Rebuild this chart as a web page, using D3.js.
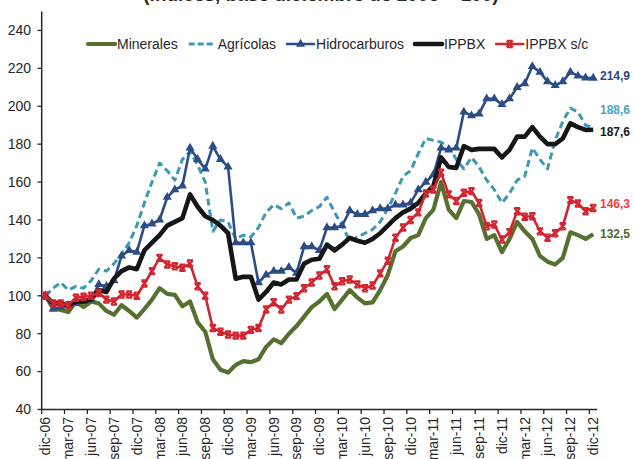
<!DOCTYPE html>
<html>
<head>
<meta charset="utf-8">
<style>
  body { margin: 0; background: #fff; }
  text { font-family: Arial, "Liberation Sans", sans-serif; fill: #262626; }
</style>
</head>
<body>
<script src="https://cdn.jsdelivr.net/npm/d3@7/dist/d3.min.js"></script>
<script>
  // dimensions
  var width = 633;
  var height = 459;

  // months dic-06 .. dic-12
  var mesNames = ["ene", "feb", "mar", "abr", "may", "jun", "jul", "ago", "sep", "oct", "nov", "dic"];
  var years = ["07", "08", "09", "10", "11", "12"];
  var months = ["dic-06"];
  years.forEach(function (yy) {
    mesNames.forEach(function (m) { months.push(m + "-" + yy); });
  });

  var yTicks = [40, 60, 80, 100, 120, 140, 160, 180, 200, 220, 240];

  // series (index base dic-2006 = 100)
  var minerales = [100, 93.5, 92.5, 91.5, 97, 94, 97, 96, 92, 90, 95, 92, 88.5,
    93, 98, 104, 101, 100.5, 94.5, 97, 86, 81, 66.5, 61, 59.5,
    63.5, 65.5, 65, 66.5, 73, 77, 75, 80, 84, 89, 94, 97,
    101, 93, 98, 103, 99, 96, 96.5, 103, 111, 123.5, 126, 130.5,
    132, 141, 145.5, 160, 145.5, 141, 150, 149.5, 143, 130, 132, 123,
    130, 139, 134, 130, 121, 118, 116.5, 120, 133.5, 132, 130, 132.5];

  var agricolas = [100, 104, 107, 103, 105, 104, 108, 114, 113, 117, 122, 128, 137,
    149, 160, 170, 166, 161, 172, 176, 169, 160, 134, 140, 139,
    130, 132, 131, 136, 144, 148, 146, 149, 141, 142, 145, 147,
    152, 144, 137, 129, 131, 133, 135, 139, 146, 154, 163, 166,
    175, 183, 182, 181, 179, 172, 167, 173, 168, 161, 156, 149,
    154, 161, 163, 178, 172, 167, 182, 192, 199, 197, 190, 188.6];

  var hidrocarburos = [100, 93, 94, 95, 96, 97, 98, 106, 105, 108, 121, 124, 123,
    137, 138, 140, 152, 156, 158, 178, 172, 167, 179, 172, 168,
    128, 128, 128, 107, 111, 113, 113, 115, 112, 126, 126, 124,
    136, 136, 137, 145, 143, 143, 145, 146, 146, 148, 148, 149,
    156, 160, 164, 178, 177, 178, 197, 195, 196, 204, 204, 201,
    204, 210, 212, 221, 218, 213, 211, 213, 218, 216, 215, 214.9];

  var ippbx = [100, 96, 96, 95, 97, 97, 98, 103, 102, 109, 113, 115, 114,
    124, 128, 132, 137, 139, 141, 153.5, 147, 142, 140, 137, 133,
    109, 110, 110, 98, 102, 107, 106, 108.6, 108.6, 117, 119, 119.5,
    127, 124, 127, 130.6, 129, 128, 130, 133, 137, 141, 144, 146,
    149, 154, 158, 173, 168, 167.5, 179, 177, 177.5, 177.5, 177.5, 173,
    177, 184, 184, 189, 184, 180, 180, 183, 191, 189, 187.5, 187.6];

  var ippbxSc = [100, 96, 96, 95, 99, 99.5, 100, 101.6, 98, 97, 100.7, 100.7, 100,
    106.5, 113, 120, 116.5, 115.6, 114.8, 117, 105, 100, 83, 81, 79.6,
    79, 79, 82, 83, 92.8, 96.6, 92.8, 98, 99.8, 104, 107, 110.7,
    114, 105, 107.7, 108.6, 106, 104, 105.4, 111.8, 118.5, 130.6, 136, 140,
    144, 154, 156, 165, 153.5, 150, 154.4, 155.2, 149, 136.7, 137.6, 129.7,
    133.6, 144.6, 141.7, 142, 134, 130.6, 133, 136.7, 150.5, 148.7, 144.6, 146.3];

  var seriesNames = ["Minerales", "Agrícolas", "Hidrocarburos", "IPPBX", "IPPBX s/c"];

  var series = [
    {name: seriesNames[0], values: minerales, color: "#56702f", label: "#4f6a2c", width: 4.2, dash: null, marker: null, dy: 0},
    {name: seriesNames[1], values: agricolas, color: "#3b99b3", label: "#4aa3bf", width: 3, dash: "7,4", marker: null, dy: -18},
    {name: seriesNames[2], values: hidrocarburos, color: "#2c4c86", label: "#2e4a7d", width: 2.6, dash: null, marker: "tri", dy: -2},
    {name: seriesNames[3], values: ippbx, color: "#161616", label: "#1a1a1a", width: 4.6, dash: null, marker: null, dy: 2},
    {name: seriesNames[4], values: ippbxSc, color: "#d1252f", label: "#ee3b3b", width: 2.6, dash: null, marker: "star", dy: -4}
  ];

  // scales
  var x = d3.scaleBand().domain(months).range([41.7, 597]).padding(0);
  var y = d3.scaleLinear().domain([40, 250]).range([409.5, 11.5]);
  var cx = function (i) { return x(months[i]) + x.bandwidth() / 2; };

  var svg = d3.select("body")
    .append("svg")
    .attr("width", width)
    .attr("height", height);

  // title (cut off at the top)
  svg.append("text")
    .attr("x", 321)
    .attr("y", 1)
    .attr("text-anchor", "middle")
    .style("font-weight", "bold")
    .style("font-size", "19px")
    .text("(Índices, base diciembre de 2006 = 100)");

  // y axis
  var yAxis = svg.append("g");
  yAxis.append("line")
    .attr("x1", 41.7).attr("x2", 41.7)
    .attr("y1", y(250)).attr("y2", y(40))
    .attr("stroke", "#262626").attr("stroke-width", 1.5);
  yAxis.selectAll(".ytick")
    .data(yTicks)
    .enter()
    .append("line")
    .attr("x1", 37.5).attr("x2", 41.7)
    .attr("y1", function (d) { return y(d); })
    .attr("y2", function (d) { return y(d); })
    .attr("stroke", "#262626").attr("stroke-width", 1.3);
  yAxis.selectAll(".ylab")
    .data(yTicks)
    .enter()
    .append("text")
    .attr("x", 31)
    .attr("y", function (d) { return y(d); })
    .attr("dy", "0.35em")
    .attr("text-anchor", "end")
    .style("font-size", "14px")
    .text(function (d) { return d; });

  // x axis
  var tickMonths = months.filter(function (d, i) { return i % 3 === 0; });
  var xAxis = svg.append("g");
  xAxis.append("line")
    .attr("x1", 41.7).attr("x2", 597)
    .attr("y1", y(40)).attr("y2", y(40))
    .attr("stroke", "#262626").attr("stroke-width", 1.5);
  xAxis.selectAll(".xtick")
    .data(tickMonths)
    .enter()
    .append("line")
    .attr("x1", function (d) { return x(d); })
    .attr("x2", function (d) { return x(d); })
    .attr("y1", y(40)).attr("y2", y(40) + 4.5)
    .attr("stroke", "#262626").attr("stroke-width", 1.3);
  xAxis.selectAll(".xlab")
    .data(tickMonths)
    .enter()
    .append("text")
    .attr("transform", function (d) {
      return "translate(" + (x(d) + x.bandwidth() / 2) + "," + 417 + ") rotate(-90)";
    })
    .attr("dy", "0.35em")
    .attr("text-anchor", "end")
    .style("font-size", "14px")
    .text(function (d) { return d; });

  // lines
  var line = d3.line()
    .x(function (d, i) { return cx(i); })
    .y(function (d) { return y(d); });

  var starPath = "M-3,-3.2H3M-3,3.2H3M-3,-3.2L3,3.2M3,-3.2L-3,3.2";
  var triSymbol = d3.symbol().type(d3.symbolTriangle).size(36);

  series.forEach(function (s) {
    var g = svg.append("g");
    g.append("path")
      .datum(s.values)
      .attr("d", line)
      .attr("fill", "none")
      .attr("stroke", s.color)
      .attr("stroke-width", s.width)
      .attr("stroke-linejoin", "round")
      .attr("stroke-dasharray", s.dash);

    if (s.marker === "tri") {
      g.selectAll(".m")
        .data(s.values)
        .enter()
        .append("path")
        .attr("d", triSymbol)
        .attr("transform", function (d, i) { return "translate(" + cx(i) + "," + y(d) + ")"; })
        .attr("fill", s.color);
    }
    if (s.marker === "star") {
      g.selectAll(".m")
        .data(s.values)
        .enter()
        .append("path")
        .attr("d", starPath)
        .attr("transform", function (d, i) { return "translate(" + cx(i) + "," + y(d) + ")"; })
        .attr("fill", "none")
        .attr("stroke", s.color)
        .attr("stroke-width", 2);
    }

    // end value label
    var last = s.values[s.values.length - 1];
    svg.append("text")
      .attr("x", 600)
      .attr("y", y(last) + s.dy)
      .attr("dy", "0.35em")
      .style("font-size", "12px")
      .style("font-weight", "bold")
      .style("fill", s.label)
      .text(d3.format(".1f")(last).replace(".", ","));
  });

  // legend
  var legend = svg.append("g").attr("transform", "translate(0,44)");
  var lx = 87;
  series.forEach(function (s) {
    var item = legend.append("g").attr("transform", "translate(" + lx + ",0)");
    item.append("line")
      .attr("x1", 1).attr("x2", 28)
      .attr("y1", 0).attr("y2", 0)
      .attr("stroke", s.color)
      .attr("stroke-width", s.width)
      .attr("stroke-linecap", s.dash ? "butt" : "round")
      .attr("stroke-dasharray", s.dash ? "6,3" : null);
    if (s.marker === "tri") {
      item.append("path").attr("d", triSymbol).attr("transform", "translate(14.5,0)").attr("fill", s.color);
    }
    if (s.marker === "star") {
      item.append("path").attr("d", starPath).attr("transform", "translate(14.5,0)")
        .attr("fill", "none").attr("stroke", s.color).attr("stroke-width", 2);
    }
    var t = item.append("text")
      .attr("x", 30)
      .attr("y", 0)
      .attr("dy", "0.35em")
      .style("font-size", "14px")
      .text(s.name);
    lx += 30 + t.node().getComputedTextLength() + 10;
  });
</script>
</body>
</html>
